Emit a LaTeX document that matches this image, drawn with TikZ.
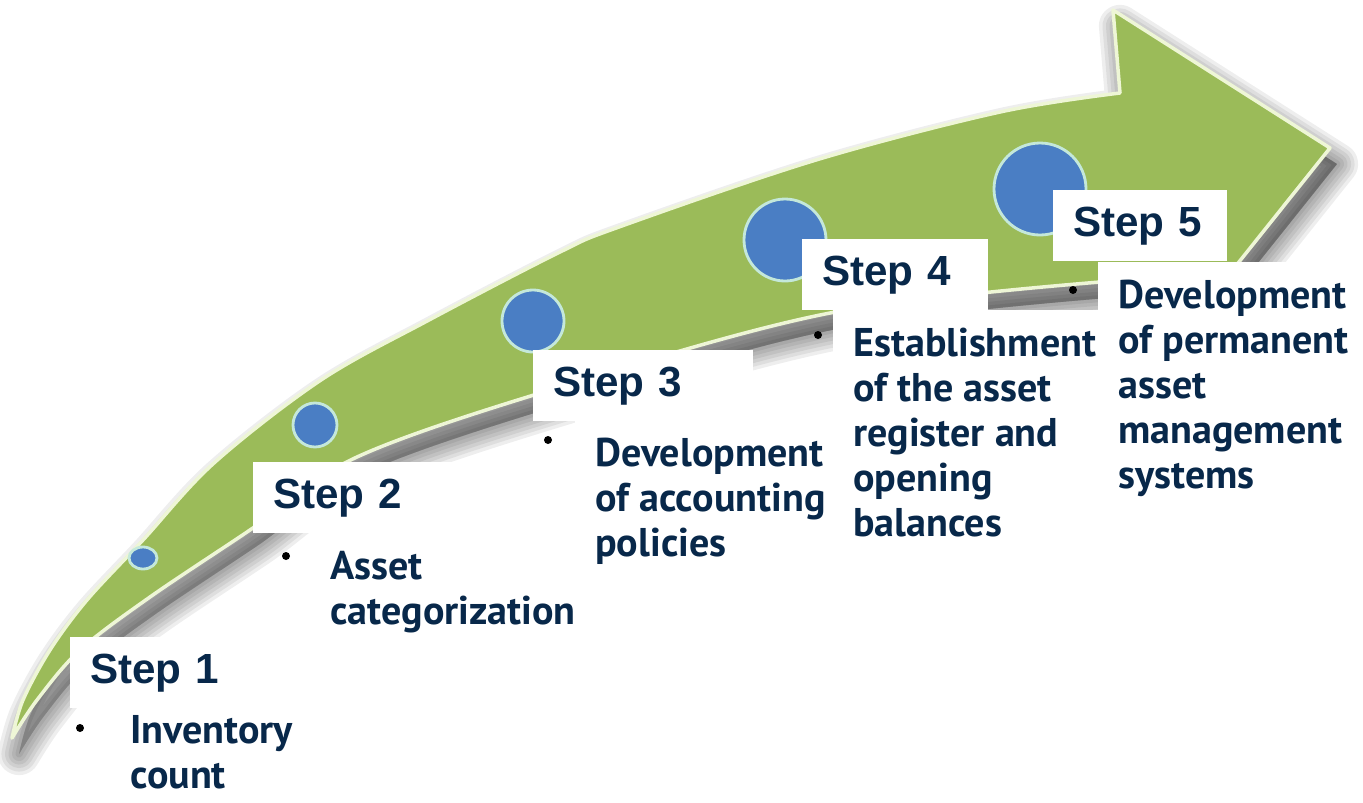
\documentclass[tikz,border=0pt]{standalone}
\usepackage{fontspec}
\setmainfont{Liberation Sans}
\newfontfamily\bodyfont{PT Sans}
\usepackage{tikz}
\usetikzlibrary{calc}
\usepackage{xcolor}

\definecolor{leafgreen}{RGB}{155,187,89}
\definecolor{paleline}{RGB}{238,246,214}
\definecolor{dotblue}{RGB}{74,126,196}
\definecolor{dotring}{RGB}{196,232,218}
\definecolor{navy}{RGB}{8,40,74}
\definecolor{shade}{RGB}{120,112,138}

% outline of the big curved arrow, in pixel-like units
\newcommand{\arrowshape}{(12,738) -- plot[smooth, tension=0.55] coordinates {(12,738) (23,700) (50,650) (87,600) (143,540) (214,463) (321,380) (429,320) (560,252) (619,227) (816,160) (1000,112) (1120,93)}
  -- (1113,10) -- (1330,148) -- (1215,292) -- (1100,282)
  -- plot[smooth, tension=0.55] coordinates {(1100,282) (830,313) (560,387) (357,457) (250,530) (150,597) (80,650) (37,700) (12,738)} -- cycle}

\begin{document}
\begin{tikzpicture}[x=0.02cm, y=-0.02cm,
    stepbox/.style={fill=white, anchor=north west, inner xsep=0.4cm, inner ysep=0pt,
      minimum height=1.42cm, align=left, text=navy,
      font=\bfseries\fontsize{24}{28}\selectfont},
    bodybox/.style={fill=white, anchor=north west, inner xsep=0.4cm, inner ysep=0.36cm,
      align=left, text=navy,
      font=\bodyfont\bfseries\fontsize{22.8}{25.6}\selectfont},
    bullet/.style={circle, fill=black, inner sep=0pt, minimum size=0.16cm}]
  \useasboundingbox (0,0) rectangle (1363,802);

  % soft shadow under the arrow
  \foreach \lw in {24,20,16,12,8,4}
    \filldraw[shade, opacity=0.065, line width=\lw pt, line join=round, shift={(7,16)}] \arrowshape;

  % the arrow
  \filldraw[leafgreen, draw=paleline, line width=2pt, line join=round] \arrowshape;

  % growing dots along the arrow
  \filldraw[dotblue, draw=dotring, line width=1.6pt] (143,558) ellipse [x radius=14, y radius=11];
  \foreach \px/\py/\r in {315/425/22, 533/321/31, 785/240/41, 1040/189/46}
    \filldraw[dotblue, draw=dotring, line width=1.6pt] (\px,\py) circle [radius=\r];

  % text panels
  \fill[white] (110,708) rectangle (330,714);
  \node[bodybox, inner ysep=0.06cm] (t1) at (110,712) {Inventory\\count};
  \node[bodybox] (t2) at (310,533) {Asset\\categorization};
  \node[bodybox] (t3) at (575,420) {Development\\of accounting\\policies};
  \node[bodybox] (t4) at (833,310) {Establishment\\of the asset\\register and\\opening\\balances};
  \node[bodybox] (t5) at (1098,262) {Development\\of permanent\\asset\\management\\systems};

  % step labels
  \node[stepbox, text width=3.9cm] (s1) at (70,637) {Step 1};
  \node[stepbox, text width=4.8cm] (s2) at (253,462) {Step 2};
  \node[stepbox, text width=3.6cm] (s3) at (533,350) {Step 3};
  \node[stepbox, text width=2.92cm] (s4) at (802,239) {Step 4};
  \node[stepbox, text width=2.68cm] (s5) at (1053,190) {Step 5};

  % bullets
  \node[bullet] (b1) at (80,728) {};
  \node[bullet] (b2) at (286,556) {};
  \node[bullet] (b3) at (548,440) {};
  \node[bullet] (b4) at (818,335) {};
  \node[bullet] (b5) at (1073,290) {};
\end{tikzpicture}
\end{document}
